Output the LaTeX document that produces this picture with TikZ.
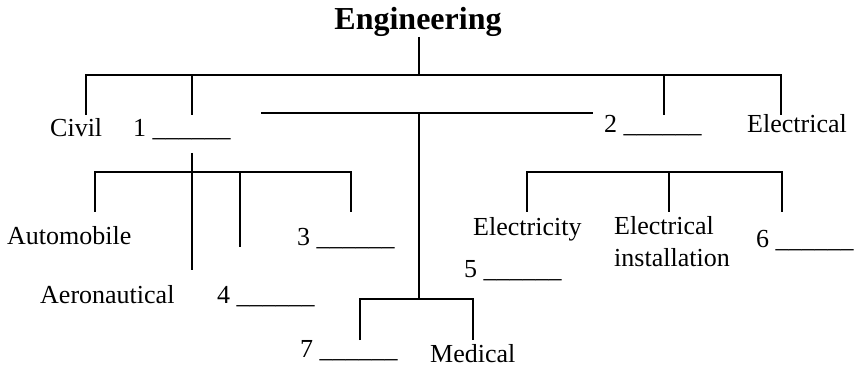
\documentclass[tikz,border=0pt]{standalone}
\usepackage{fontspec}
\setmainfont{Liberation Serif}
\begin{document}
\begin{tikzpicture}[x=1pt,y=-1pt,
  lbl/.style={anchor=base west,inner sep=0pt,font=\fontsize{26}{30}\selectfont},
  ttl/.style={anchor=base,inner sep=0pt,font=\fontsize{32}{36}\selectfont\bfseries},
  ln/.style={line width=1.6pt,line cap=butt,line join=miter}]
\useasboundingbox (0,0) rectangle (859,366);
% texts
\node[ttl] (eng) at (418,30) {Engineering};
\node[lbl] (civil) at (50,137) {Civil};
\node[lbl] (b1) at (133,137) {1 \_\_\_\_\_\_};
\node[lbl] (b2) at (604,133) {2 \_\_\_\_\_\_};
\node[lbl] (elec) at (747,133) {Electrical};
\node[lbl] (auto) at (7,244) {Automobile};
\node[lbl] (b3) at (297,245) {3 \_\_\_\_\_\_};
\node[lbl] (aero) at (40,303) {Aeronautical};
\node[lbl] (b4) at (217,303) {4 \_\_\_\_\_\_};
\node[lbl] (b7) at (300,357) {7 \_\_\_\_\_\_};
\node[lbl] (med) at (430,362) {Medical};
\node[lbl] (ely) at (473,236) {Electricity};
\node[lbl] (einsA) at (614,234) {Electrical};
\node[lbl] (einsB) at (614,266) {installation};
\node[lbl] (b6) at (756,247) {6 \_\_\_\_\_\_};
\node[lbl] (b5) at (464,277) {5 \_\_\_\_\_\_};
% coordinates
\coordinate (t0) at (419,37);
\coordinate (t1) at (419,75);
\coordinate (hL) at (86,75);
\coordinate (hR) at (781,75);
\coordinate (d1a) at (192,75);
\coordinate (d2a) at (664,75);
\coordinate (cE) at (86,115);
\coordinate (c1) at (192,115);
\coordinate (c2) at (664,115);
\coordinate (cR) at (781,115);
% middle branch
\coordinate (mL) at (261,113);
\coordinate (mR) at (593,113);
\coordinate (mT) at (419,113);
\coordinate (mB) at (419,299);
\coordinate (mdL) at (360,299);
\coordinate (mdR) at (473,299);
\coordinate (mdLb) at (360,340);
\coordinate (mdRb) at (473,340);
% branch under 1
\coordinate (aT) at (192,153);
\coordinate (aB) at (192,270);
\coordinate (aL) at (95,172);
\coordinate (aR) at (351,172);
\coordinate (aLb) at (95,212);
\coordinate (aRb) at (351,212);
\coordinate (aM) at (240,172);
\coordinate (aMb) at (240,247);
% electrical branch
\coordinate (eL) at (527,172);
\coordinate (eR) at (782,172);
\coordinate (eM) at (669,172);
\coordinate (eLb) at (527,212);
\coordinate (eMb) at (669,212);
\coordinate (eRb) at (782,212);
% lines
\draw[ln] (t0) -- (t1);
\draw[ln] (cE) -- (hL) -- (hR) -- (cR);
\draw[ln] (d1a) -- (c1);
\draw[ln] (d2a) -- (c2);
\draw[ln] (mL) -- (mR);
\draw[ln] (mT) -- (mB);
\draw[ln] (mdLb) -- (mdL) -- (mdR) -- (mdRb);
\draw[ln] (aT) -- (aB);
\draw[ln] (aLb) -- (aL) -- (aR) -- (aRb);
\draw[ln] (aM) -- (aMb);
\draw[ln] (eLb) -- (eL) -- (eR) -- (eRb);
\draw[ln] (eM) -- (eMb);
\end{tikzpicture}
\end{document}
